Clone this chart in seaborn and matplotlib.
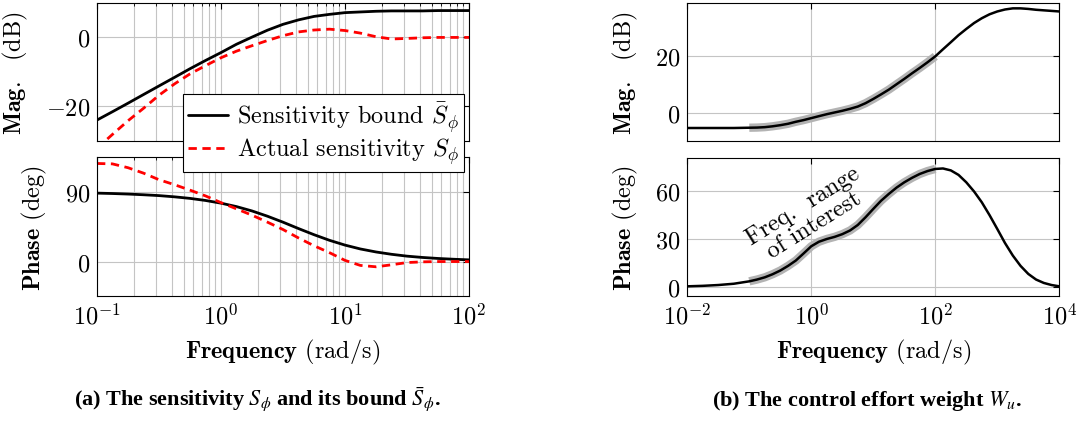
import matplotlib
matplotlib.use("Agg")
import matplotlib.pyplot as plt
import seaborn as sns
from matplotlib.ticker import LogLocator, NullLocator, NullFormatter

# ---------------------------------------------------------------- data
# (a) sensitivity S_phi and its bound, frequency in rad/s
freq_a = [0.1, 0.133, 0.178, 0.237, 0.316, 0.422, 0.562, 0.75, 1.0, 1.33,
          1.78, 2.37, 3.16, 4.22, 5.62, 7.5, 10.0, 13.3, 17.8, 23.7,
          31.6, 42.2, 56.2, 75.0, 100.0]
bound_mag = [-24.0, -21.6, -19.1, -16.6, -14.1, -11.6, -9.1, -6.7, -4.4, -2.0,
             0.1, 2.1, 3.8, 5.1, 6.1, 6.7, 7.2, 7.4, 7.6, 7.7,
             7.7, 7.7, 7.8, 7.8, 7.8]
bound_phase = [88.6, 88.1, 87.4, 86.5, 85.4, 83.8, 81.8, 79.1, 75.6, 71.2,
               65.5, 58.7, 51.0, 42.7, 34.8, 27.5, 21.3, 16.3, 12.4, 9.4,
               7.0, 5.3, 4.0, 3.0, 2.2]
actual_mag = [-32.2, -28.2, -24.2, -20.6, -16.8, -13.5, -10.6, -8.2, -5.9, -4.0,
              -2.4, -0.9, 0.5, 1.6, 2.15, 2.4, 2.0, 1.25, 0.2, -0.45,
              -0.3, -0.1, 0.0, 0.0, 0.0]
actual_phase = [127.0, 126.5, 121.5, 114.5, 106.0, 99.5, 92.5, 85.0, 76.3, 68.3,
                60.0, 51.0, 41.5, 30.5, 20.5, 11.5, 1.5, -5.0, -6.8, -4.2,
                -1.3, -0.4, 0.0, 0.0, 0.0]

# (b) control effort weight W_u
freq_b = [0.01, 0.0178, 0.0316, 0.0562, 0.1, 0.133, 0.178, 0.237, 0.316, 0.422,
          0.562, 0.75, 1.0, 1.33, 1.78, 2.37, 3.16, 4.22, 5.62, 7.5,
          10.0, 13.3, 17.8, 23.7, 31.6, 42.2, 56.2, 75.0, 100.0, 133.0,
          178.0, 237.0, 316.0, 422.0, 562.0, 750.0, 1000.0, 1330.0, 1780.0, 2370.0,
          3160.0, 4220.0, 5620.0, 7500.0, 10000.0]
wu_mag = [-5.4, -5.4, -5.4, -5.4, -5.3, -5.25, -5.1, -4.8, -4.4, -3.9,
          -3.2, -2.6, -1.9, -1.2, -0.5, 0.1, 0.7, 1.4, 2.2, 3.4,
          4.9, 6.5, 8.2, 10.1, 12.0, 14.0, 15.9, 17.9, 20.0, 22.5,
          25.0, 27.5, 29.7, 31.8, 33.5, 34.9, 35.9, 36.6, 37.0, 37.0,
          36.8, 36.5, 36.3, 36.1, 35.9]
wu_phase = [0.6, 0.9, 1.4, 2.2, 3.7, 4.8, 6.2, 8.1, 10.4, 13.3,
            16.6, 21.0, 25.5, 28.3, 30.0, 31.3, 33.0, 35.3, 38.7, 43.5,
            48.7, 53.7, 58.0, 61.9, 65.2, 68.0, 70.4, 72.2, 73.5, 73.8,
            72.6, 69.8, 65.2, 59.5, 52.8, 44.8, 36.2, 27.5, 19.7, 13.3,
            8.3, 4.8, 2.7, 1.4, 0.6]
band_lo, band_hi = 0.1, 100.0

# axis ticks and labels
xticks_a = [0.1, 1, 10, 100]
xticklabels_a = [r"$10^{-1}$", r"$10^{0}$", r"$10^{1}$", r"$10^{2}$"]
xticks_b = [0.01, 1, 100, 10000]
xticklabels_b = [r"$10^{-2}$", r"$10^{0}$", r"$10^{2}$", r"$10^{4}$"]
yticks_mag_a = [-20, 0]
yticks_phase_a = [0, 90]
yticks_mag_b = [0, 20]
yticks_phase_b = [0, 30, 60]

caption_a = r"(a) The sensitivity $S_\phi$ and its bound $\bar{S}_\phi$."
caption_b = r"(b) The control effort weight $W_u$."

FS = 17.5

# ---------------------------------------------------------------- style
sns.set_theme(style="white")
plt.rcParams.update({
    "font.family": ["cmr10", "DejaVu Serif"],
    "mathtext.fontset": "cm",
    "axes.unicode_minus": True,
    "font.size": FS,
    "axes.edgecolor": "black",
    "axes.linewidth": 0.8,
    "xtick.direction": "in",
    "ytick.direction": "in",
    "xtick.color": "black",
    "ytick.color": "black",
    "xtick.labelsize": FS,
    "ytick.labelsize": FS,
    "axes.labelsize": FS,
    "axes.labelcolor": "black",
    "text.color": "black",
})

fig = plt.figure(figsize=(10.78, 4.31), dpi=100)
W, H = 1078.0, 431.0


def add_axes(x0, y0, x1, y1):
    return fig.add_axes([x0 / W, 1 - y1 / H, (x1 - x0) / W, (y1 - y0) / H])


ax_am = add_axes(97, 4, 469, 141.7)
ax_ap = add_axes(97, 158.3, 469, 297.3)
ax_bm = add_axes(687.3, 4, 1059.3, 141.7)
ax_bp = add_axes(687.3, 159, 1059.3, 297.3)

grid_kw = dict(color="#c4c4c4", linewidth=0.8)


def style_axis(ax, xlim, xticks, xlabels, yticks, ylim, minor, show_x):
    ax.set_xscale("log")
    ax.set_xlim(*xlim)
    ax.set_ylim(*ylim)
    ax.set_xticks(xticks)
    if show_x:
        ax.set_xticklabels(xlabels)
    else:
        ax.set_xticklabels([])
    ax.set_yticks(yticks)
    ax.set_yticklabels([r"$%d$" % v for v in yticks])
    if minor:
        ax.xaxis.set_minor_locator(LogLocator(base=10, subs=range(2, 10)))
        ax.grid(True, which="minor", axis="x", **grid_kw)
    else:
        ax.xaxis.set_minor_locator(NullLocator())
    ax.xaxis.set_minor_formatter(NullFormatter())
    ax.grid(True, which="major", axis="both", **grid_kw)
    ax.tick_params(which="major", length=4, width=0.8, top=True, right=True, pad=5)
    ax.tick_params(which="minor", length=2.5, width=0.6, top=True, right=True)
    ax.set_axisbelow(True)
    for s in ax.spines.values():
        s.set_visible(True)
        s.set_color("black")
        s.set_linewidth(0.8)


# ---------------------------------------------------------------- (a)
sns.lineplot(x=freq_a, y=bound_mag, ax=ax_am, color="black", linewidth=2.0,
             estimator=None, sort=False, label=r"Sensitivity bound $\bar{S}_\phi$")
sns.lineplot(x=freq_a, y=actual_mag, ax=ax_am, color="#ff0000", linewidth=2.0,
             estimator=None, sort=False, linestyle="--",
             label=r"Actual sensitivity $S_\phi$")
ax_am.lines[-1].set_dashes((3.0, 2.0))

sns.lineplot(x=freq_a, y=bound_phase, ax=ax_ap, color="black", linewidth=2.0,
             estimator=None, sort=False, legend=False)
sns.lineplot(x=freq_a, y=actual_phase, ax=ax_ap, color="#ff0000", linewidth=2.0,
             estimator=None, sort=False, linestyle="--", legend=False)
ax_ap.lines[-1].set_dashes((3.0, 2.0))

style_axis(ax_am, (0.1, 100), xticks_a, xticklabels_a, yticks_mag_a, (-30, 10), True, False)
style_axis(ax_ap, (0.1, 100), xticks_a, xticklabels_a, yticks_phase_a, (-45, 135), True, True)

ax_am.set_ylabel(r"$\mathbf{Mag.}$  (dB)", labelpad=11)
ax_ap.set_ylabel(r"$\mathbf{Phase}$ (deg)", labelpad=11)
ax_ap.set_xlabel(r"$\mathbf{Frequency}$ (rad/s)", labelpad=6)

leg = ax_am.legend(loc="upper right", bbox_to_anchor=(0.987, 0.339),
                   borderaxespad=0, frameon=True, fancybox=False, framealpha=1,
                   edgecolor="black", handlelength=1.65, handletextpad=0.35,
                   borderpad=0.22, labelspacing=0.08, fontsize=FS)
leg.get_frame().set_linewidth(0.8)
leg.set_zorder(10)
ax_am.set_zorder(3)
ax_ap.set_zorder(1)

# ---------------------------------------------------------------- (b)
band_f = [f for f in freq_b if band_lo <= f <= band_hi]
band_m = [m for f, m in zip(freq_b, wu_mag) if band_lo <= f <= band_hi]
band_p = [p for f, p in zip(freq_b, wu_phase) if band_lo <= f <= band_hi]

sns.lineplot(x=band_f, y=band_m, ax=ax_bm, color="#b3b3b3", linewidth=6.0,
             estimator=None, sort=False, legend=False, solid_capstyle="butt")
sns.lineplot(x=freq_b, y=wu_mag, ax=ax_bm, color="black", linewidth=1.8,
             estimator=None, sort=False, legend=False)
sns.lineplot(x=band_f, y=band_p, ax=ax_bp, color="#b3b3b3", linewidth=6.0,
             estimator=None, sort=False, legend=False, solid_capstyle="butt")
sns.lineplot(x=freq_b, y=wu_phase, ax=ax_bp, color="black", linewidth=1.8,
             estimator=None, sort=False, legend=False)

style_axis(ax_bm, (0.01, 10000), xticks_b, xticklabels_b, yticks_mag_b, (-9.9, 38.9), False, False)
style_axis(ax_bp, (0.01, 10000), xticks_b, xticklabels_b, yticks_phase_b, (-5.6, 80.3), False, True)

ax_bm.set_ylabel(r"$\mathbf{Mag.}$  (dB)", labelpad=11)
ax_bp.set_ylabel(r"$\mathbf{Phase}$ (deg)", labelpad=11)
ax_bp.set_xlabel(r"$\mathbf{Frequency}$ (rad/s)", labelpad=6)

ax_bp.text(0.9, 45.0, "Freq.  range\nof interest", rotation=32,
           rotation_mode="anchor", ha="center", va="center",
           multialignment="center", fontsize=FS, linespacing=1.0, zorder=5)

# ---------------------------------------------------------------- captions
cap_kw = dict(ha="center", va="baseline", fontsize=16, fontweight="bold",
              family="Liberation Serif", math_fontfamily="stix")
fig.text(257 / W, (H - 406) / H, caption_a, **cap_kw)
fig.text(867 / W, (H - 406) / H, caption_b, **cap_kw)

fig.savefig("out.png", dpi=100)
